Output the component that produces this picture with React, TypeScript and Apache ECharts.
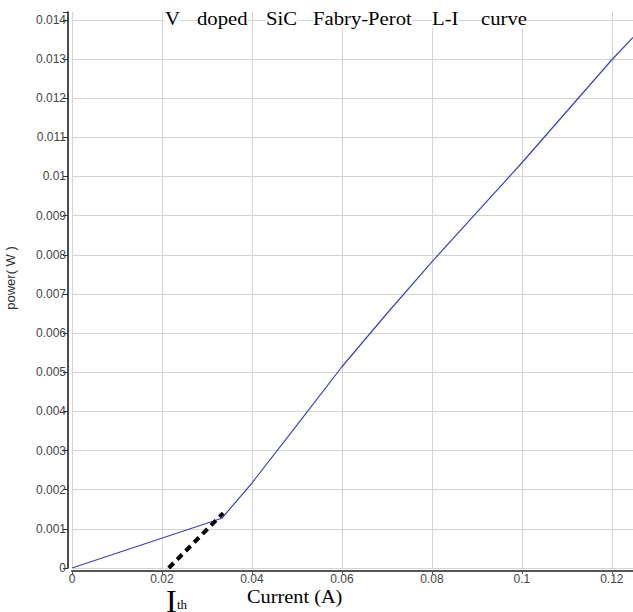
import React, { useEffect, useRef } from "react";
import * as echarts from "echarts";

// L-I curve of the V doped SiC Fabry-Perot laser: current (A) vs optical power (W)
const currentA = [0, 0.0333, 0.04, 0.05, 0.06, 0.07, 0.08, 0.1, 0.12, 0.1247];
const powerW = [0, 0.00127, 0.00217, 0.00365, 0.00514, 0.0065, 0.00782, 0.01035, 0.01298, 0.01355];

// extrapolated threshold line (dashed)
const thresholdCurrent = [0.0215, 0.0336];
const thresholdPower = [0, 0.0014];

// title words, spaced out across the top
const titleWords = ["V", "doped", "SiC", "Fabry-Perot", "L-I", "curve"];
const titleWordX = [165, 197, 266, 313, 432, 481];

const xMax = 0.1247;
const yMax = 0.0142;
const xStep = 0.02;
const yStep = 0.001;

const isStep = (v: number, step: number) => {
  const r = v / step;
  return Math.abs(r - Math.round(r)) < 1e-6;
};

export default function App() {
  const ref = useRef<HTMLDivElement>(null);

  useEffect(() => {
    if (!ref.current) return;
    const chart = echarts.init(ref.current, null, { renderer: "svg" });
    const sans = "Liberation Sans, Arial, sans-serif";
    const serif = "Liberation Serif, Times New Roman, serif";

    chart.setOption({
      animation: false,
      backgroundColor: "#ffffff",
      grid: { left: 72, right: 0, top: 12, bottom: 44, containLabel: false, outerBoundsMode: "none" },
      xAxis: {
        type: "value",
        min: 0,
        max: xMax,
        interval: xStep,
        offset: 3,
        axisLine: { show: true, onZero: false, lineStyle: { color: "#555", width: 2 } },
        axisTick: { show: true, length: 3, lineStyle: { color: "#555" } },
        axisLabel: {
          color: "#444",
          fontFamily: sans,
          fontSize: 12,
          margin: 2,
          formatter: (v: number) => (isStep(v, xStep) ? String(Number(v.toFixed(4))) : ""),
        },
        splitLine: { show: true, showMaxLine: false, lineStyle: { color: "#d4d4d4", width: 1 } },
      },
      yAxis: {
        type: "value",
        min: 0,
        max: yMax,
        interval: yStep,
        offset: 4,
        axisLine: { show: true, onZero: false, lineStyle: { color: "#111", width: 1.5 } },
        axisTick: { show: true, length: 5, lineStyle: { color: "#333" } },
        axisLabel: {
          color: "#444",
          fontFamily: sans,
          fontSize: 12,
          margin: 2,
          formatter: (v: number) => (isStep(v, yStep) ? String(Number(v.toFixed(4))) : ""),
        },
        splitLine: { show: true, showMaxLine: false, lineStyle: { color: "#d4d4d4", width: 1 } },
      },
      series: [
        {
          type: "line",
          data: currentA.map((x, i) => [x, powerW[i]]),
          showSymbol: false,
          lineStyle: { color: "#3f3fc4", width: 1.2 },
          z: 3,
        },
        {
          type: "line",
          data: thresholdCurrent.map((x, i) => [x, thresholdPower[i]]),
          showSymbol: false,
          lineStyle: { color: "#000", width: 4, type: [7, 5] },
          z: 4,
        },
      ],
      graphic: [
        ...titleWords.map((w, i) => ({
          type: "text",
          x: titleWordX[i],
          y: 10,
          scaleX: 1.15,
          z: 10,
          style: {
            text: w,
            fontFamily: serif,
            fontSize: 18,
            fill: "#000",
            backgroundColor: "#fff",
          },
        })),
        {
          type: "text",
          x: 10,
          y: 278,
          rotation: Math.PI / 2,
          style: {
            text: "power( W )",
            fontFamily: sans,
            fontSize: 13,
            fill: "#333",
            align: "center",
            verticalAlign: "middle",
          },
        },
        {
          type: "text",
          x: 247,
          y: 588,
          scaleX: 1.13,
          style: {
            text: "Current (A)",
            fontFamily: serif,
            fontSize: 18,
            fill: "#000",
          },
        },
        {
          type: "text",
          x: 166,
          y: 585,
          style: { text: "I", fontFamily: serif, fontSize: 32, fill: "#000" },
        },
        {
          type: "text",
          x: 177,
          y: 598,
          style: { text: "th", fontFamily: serif, fontSize: 13, fill: "#000" },
        },
      ],
    });

    return () => chart.dispose();
  }, []);

  return <div ref={ref} style={{ width: 633, height: 612, position: "absolute", left: 0, top: 0 }} />;
}
